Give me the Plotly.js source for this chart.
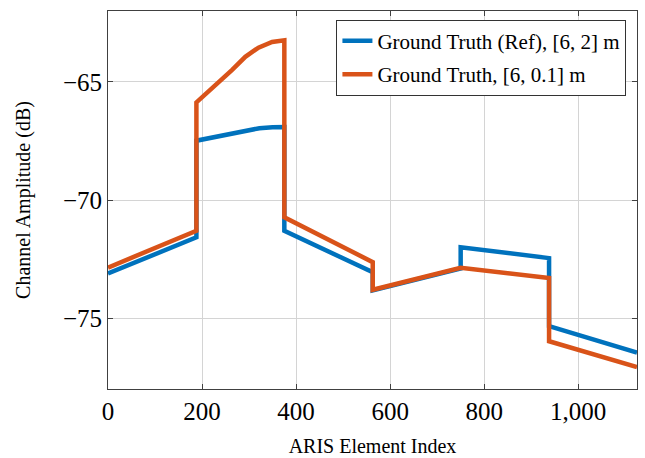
<!DOCTYPE html>
<html>
<head>
<meta charset="utf-8">
<script src="https://cdn.plot.ly/plotly-3.0.1.min.js"></script>
<style>
  html, body { margin: 0; padding: 0; background: #fff; }
  #chart { width: 645px; height: 458px; }
</style>
</head>
<body>
<div id="chart"></div>
<script>
// Channel amplitude across the ARIS elements (dB); repeated x values mark the jumps between sub-arrays
const xRef = [0, 188, 188, 235, 266, 294, 322, 350, 375, 375, 563, 563, 750, 750, 938, 938, 1125];
const yRef = [-73.11, -71.58, -67.49, -67.3, -67.15, -67.04, -66.96, -66.92, -66.91, -71.3, -73.06, -73.83, -72.9, -72.0, -72.46, -75.34, -76.46];

const xFine = [0, 188, 188, 235, 264, 292, 320, 349, 375, 375, 563, 563, 750, 938, 938, 1125];
const yFine = [-72.86, -71.3, -65.87, -65.03, -64.49, -63.94, -63.55, -63.31, -63.24, -70.73, -72.63, -73.8, -72.87, -73.3, -75.98, -77.07];

const seriesNames = ['Ground Truth (Ref), [6, 2] m', 'Ground Truth, [6, 0.1] m'];
const seriesColors = ['#0072BD', '#D95319'];

const serif = 'Liberation Serif, Times New Roman, serif';

const traces = [
  { x: xRef, y: yRef, name: seriesNames[0], legendgroup: 'a' },
  { x: xFine, y: yFine, name: seriesNames[1], legendgroup: 'b' }
].map((t, i) => Object.assign(t, {
  type: 'scatter',
  mode: 'lines',
  line: { color: seriesColors[i], width: 4.5 }
}));

const axisCommon = {
  showline: true,
  linecolor: '#404040',
  linewidth: 1,
  mirror: 'ticks',
  ticks: 'inside',
  ticklen: 5,
  tickcolor: '#404040',
  showgrid: true,
  gridcolor: '#d4d4d4',
  gridwidth: 1,
  zeroline: false,
  tickfont: { family: serif, size: 25, color: '#000' }
};

const layout = {
  width: 645,
  height: 458,
  margin: { l: 108, r: 8, t: 11, b: 69 },
  paper_bgcolor: '#fff',
  plot_bgcolor: '#fff',
  showlegend: true,
  separators: '.,',
  xaxis: Object.assign({}, axisCommon, {
    range: [0, 1125],
    tick0: 0,
    dtick: 200,
    tickformat: ',d',
    title: { text: 'ARIS Element Index', font: { family: serif, size: 20, color: '#000' }, standoff: 14 }
  }),
  yaxis: Object.assign({}, axisCommon, {
    range: [-78, -62],
    tick0: -75,
    dtick: 5,
    title: { text: 'Channel Amplitude (dB)', font: { family: serif, size: 20, color: '#000' }, standoff: 26 }
  }),
  legend: {
    x: 0.98,
    y: 0.977,
    xanchor: 'right',
    yanchor: 'top',
    bgcolor: '#fff',
    bordercolor: '#333',
    borderwidth: 1,
    tracegroupgap: 3,
    font: { family: serif, size: 21, color: '#000' }
  }
};

Plotly.newPlot('chart', traces, layout, { staticPlot: true, displayModeBar: false });
</script>
</body>
</html>
